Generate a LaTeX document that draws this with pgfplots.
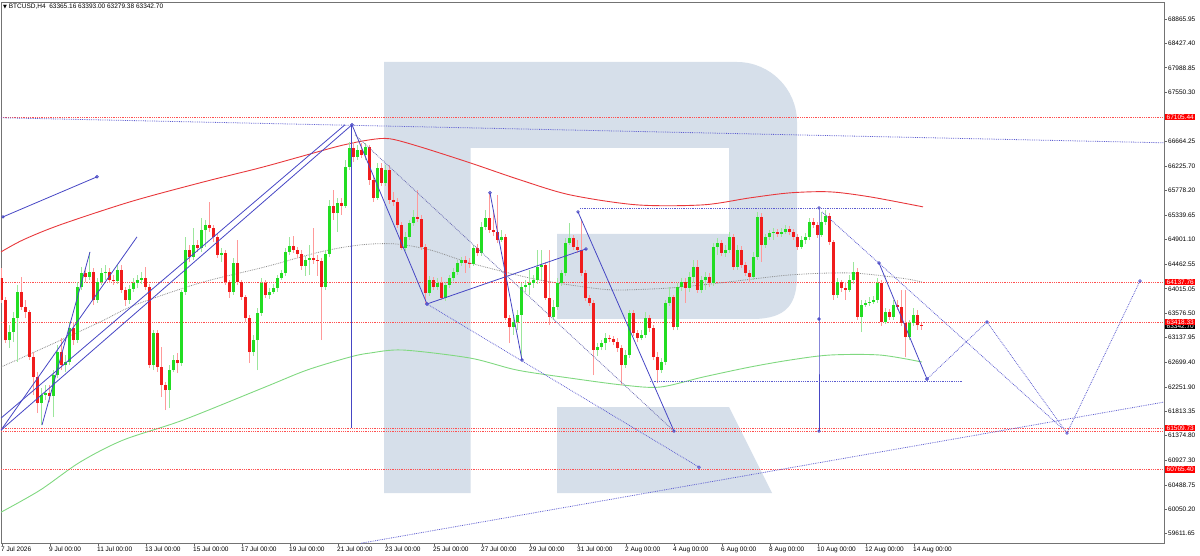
\documentclass[border=0pt]{standalone}
\usepackage{fontspec}
\setmainfont{Liberation Sans}
\newfontfamily\symfont{DejaVu Sans}
\usepackage{pgfplots}
\usepackage{pgfplotstable}
\pgfplotsset{compat=1.18}

\definecolor{upbody}{HTML}{22DD22}
\definecolor{upwick}{HTML}{9CE69C}
\definecolor{dnbody}{HTML}{F01C1C}
\definecolor{dnwick}{HTML}{FF9A9A}
\definecolor{trend}{HTML}{4646C4}
\definecolor{trenddot}{HTML}{5C5CD0}
\definecolor{level}{HTML}{FF5050}
\definecolor{rlogo}{HTML}{D6DFEA}
\definecolor{maslow}{HTML}{E8383C}
\definecolor{mafast}{HTML}{80D880}
\newcommand\tk{\fontsize{6.5}{7}\selectfont}
\pgfplotsset{candle/.style={only marks, mark=*, mark size=0.01pt,
  mark options={draw opacity=0, fill opacity=0}, forget plot}}

% BTCUSD H4, bar index (0 = 7 Jul 00:00), open high low close
\pgfplotstableread{
x o h l c
0 64210 64390 63760 63814
1 63814 63868 63040 63094
2 63094 63364 62950 63238
3 63238 63598 63058 63490
4 63490 64084 62698 63958
5 63958 64228 63634 63688
6 63688 63814 63490 63598
7 63598 63634 62734 62788
8 62788 62878 62104 62428
9 62428 62518 61780 61960
10 61960 62230 61564 62104
11 62104 62284 62014 62140
12 62140 62284 61978 62086
13 62086 62554 61708 62464
14 62464 63004 62410 62878
15 62878 63130 62554 62644
16 62644 62824 62518 62698
17 62698 63418 62644 63310
18 63310 63418 63004 63094
19 63094 64138 63040 64048
20 64048 64408 63994 64300
21 64300 64390 64138 64228
22 64228 64678 64174 64318
23 64318 64390 63724 63814
24 63814 64210 63760 64138
25 64138 64390 64084 64300
26 64300 64444 64174 64318
27 64318 64390 64120 64174
28 64174 64264 64084 64156
29 64156 64444 64102 64354
30 64354 64444 63940 63994
31 63994 64048 63706 63814
32 63814 64084 63742 64012
33 64012 64210 63958 64120
34 64120 64264 64030 64174
35 64174 64318 64102 64210
36 64210 64408 63994 64048
37 64048 64102 62590 62644
38 62644 63274 62554 63220
39 63220 63274 62518 62608
40 62608 62968 62068 62284
41 62284 62338 61834 62194
42 62194 62644 61870 62554
43 62554 62824 62518 62734
44 62734 62860 62500 62680
45 62680 63994 62626 63958
46 63958 64948 63904 64714
47 64714 64804 64498 64588
48 64588 65110 64534 64804
49 64804 64894 64678 64750
50 64750 65290 64678 65074
51 65074 65254 64768 65164
52 65164 65578 65038 65110
53 65110 65164 64858 64948
54 64948 65020 64570 64624
55 64624 64750 64498 64660
56 64660 64714 64084 64138
57 64138 64174 63850 63958
58 63958 64570 63904 64480
59 64480 64894 64084 64138
60 64138 64174 63814 63868
61 63868 63904 63418 63490
62 63490 63544 62680 62878
63 62878 63184 62806 63094
64 63094 63670 62554 63580
65 63580 64210 63526 64120
66 64120 64174 63850 63904
67 63904 64030 63832 63958
68 63958 64102 63922 64030
69 64030 64264 63958 64210
70 64210 64354 64174 64300
71 64300 64750 64246 64678
72 64678 64948 64624 64786
73 64786 64966 64660 64714
74 64714 64768 64570 64642
75 64642 64714 64354 64426
76 64426 64606 64246 64534
77 64534 64804 64264 64570
78 64570 65110 64462 64534
79 64534 64624 64246 64516
80 64516 64570 63094 64048
81 64048 64714 63994 64642
82 64642 65614 64588 65506
83 65506 65794 65254 65380
84 65380 65650 65038 65560
85 65560 65650 65344 65506
86 65506 66334 65470 66208
87 66208 66658 66154 66550
88 66550 66658 66298 66388
89 66388 66604 66334 66514
90 66514 66640 66370 66424
91 66424 66640 66334 66568
92 66568 66604 65884 65974
93 65974 66028 65578 65650
94 65650 66280 65614 66190
95 66190 66280 65866 65920
96 65920 66244 65866 66154
97 66154 66244 65542 65614
98 65614 65758 65506 65578
99 65578 65650 65110 65164
100 65164 65218 64714 64750
101 64750 65038 64696 64948
102 64948 65254 64894 65200
103 65200 65434 65146 65308
104 65308 65794 65218 65272
105 65272 65344 64714 64768
106 64768 64822 63742 63940
107 63940 64246 63886 64174
108 64174 64228 63994 64048
109 64048 64210 63994 64120
110 64120 64228 63814 63850
111 63850 64138 63796 64084
112 64084 64264 64030 64210
113 64210 64390 64156 64318
114 64318 64534 64264 64480
115 64480 64588 64426 64534
116 64534 64606 64300 64480
117 64480 64570 64390 64462
118 64462 64804 64426 64750
119 64750 64822 64606 64660
120 64660 65218 64606 65128
121 65128 65434 65074 65290
122 65290 65740 65020 65074
123 65074 65434 64966 65038
124 65038 65704 64840 64894
125 64894 65074 64858 64948
126 64948 65002 63454 63490
127 63490 63544 63040 63328
128 63328 63508 63184 63418
129 63418 63634 63274 63544
130 63544 64120 62734 64048
131 64048 64174 63958 64084
132 64084 64354 63904 64120
133 64120 64264 64030 64174
134 64174 64714 64102 64408
135 64408 64714 64174 64444
136 64444 64498 63814 63850
137 63850 64714 63364 63508
138 63508 63814 63454 63688
139 63688 64210 63634 64120
140 64120 64354 64066 64300
141 64300 64930 64246 64840
142 64840 65200 64804 64930
143 64930 64984 64714 64768
144 64768 64894 64660 64714
145 64714 65254 64246 64300
146 64300 64354 63796 63850
147 63850 63904 63706 63760
148 63760 63814 62464 62914
149 62914 63040 62806 62968
150 62968 63094 62914 63040
151 63040 63220 62914 63130
152 63130 63184 63058 63112
153 63112 63166 63004 63058
154 63058 63130 62878 62950
155 62950 63004 62284 62644
156 62644 62914 62590 62824
157 62824 63634 62770 63580
158 63580 63634 63166 63220
159 63220 63274 63058 63130
160 63130 63274 63094 63184
161 63184 63598 63130 63490
162 63490 63544 63238 63310
163 63310 63364 62734 62788
164 62788 62878 62320 62554
165 62554 62770 62500 62698
166 62698 63814 62644 63760
167 63760 64048 63706 63868
168 63868 63904 63274 63328
169 63328 64120 63274 64048
170 64048 64210 63976 64138
171 64138 64210 63760 64030
172 64030 64318 63958 64228
173 64228 64534 64120 64408
174 64408 64534 63940 63994
175 63994 64246 63940 64174
176 64174 64318 63994 64228
177 64228 64300 64048 64120
178 64120 64840 64066 64768
179 64768 64930 64624 64840
180 64840 64894 64606 64660
181 64660 64804 64588 64714
182 64714 65038 64660 64948
183 64948 65002 64354 64408
184 64408 64804 64354 64714
185 64714 64786 64390 64444
186 64444 64498 64246 64300
187 64300 64354 64138 64228
188 64228 64678 64174 64588
189 64588 65398 64534 65308
190 65308 65380 64498 64804
191 64804 65002 64750 64948
192 64948 65074 64894 65020
193 65020 65110 64894 65038
194 65038 65092 64948 65002
195 65002 65110 64948 65038
196 65038 65164 65002 65092
197 65092 65146 64984 65038
198 65038 65092 64894 64948
199 64948 65002 64714 64768
200 64768 64966 64732 64894
201 64894 65020 64822 64948
202 64948 65290 64894 65218
203 65218 65290 65110 65164
204 65164 65218 64930 64984
205 64984 65398 64948 65218
206 65218 65434 65164 65326
207 65326 65380 64804 64858
208 64858 64894 63814 63904
209 63904 64210 63850 64138
210 64138 64174 63958 64030
211 64030 64138 63814 63994
212 63994 64264 63958 64174
213 64174 64498 64102 64318
214 64318 64390 63454 63508
215 63508 63814 63238 63724
216 63724 63814 63688 63760
217 63760 63868 63706 63778
218 63778 63886 63742 63814
219 63814 64210 63760 64120
220 64120 64174 63346 63418
221 63418 63670 63382 63598
222 63598 63652 63454 63508
223 63508 63814 63454 63724
224 63724 63814 63634 63688
225 63688 63994 63346 63400
226 63400 63994 62788 63148
227 63148 63454 63094 63400
228 63400 63670 63346 63544
229 63544 63634 63274 63364
230 63365.16 63393.00 63279.38 63342.70
}\candles

\begin{document}
\begin{tikzpicture}
\path[use as bounding box] (0,0) rectangle (1200pt,555pt);
% watermark logo
\fill[rlogo] (384pt,493pt) -- (737pt,493pt)
  .. controls (770pt,493pt) and (797pt,466pt) .. (797pt,433pt)
  -- (797pt,280pt) .. controls (797pt,252pt) and (788pt,236pt) .. (752pt,236pt)
  -- (557pt,236pt) -- (557pt,321pt) -- (729pt,321pt) -- (729pt,407pt)
  -- (470.7pt,407pt) -- (470.7pt,62pt) -- (384pt,62pt) -- cycle;
\fill[rlogo] (557pt,148pt) -- (729pt,148pt) -- (772pt,62pt) -- (557pt,62pt) -- cycle;

\begin{axis}[
  at={(1pt,12pt)}, anchor=south west, scale only axis,
  width=1163pt, height=541pt,
  xmin=-0.25, xmax=290.5, ymin=59444.5, ymax=69171.6,
  clip mode=individual,
  scaled y ticks=false, scaled x ticks=false,
  axis line style={draw=black!55, line width=0.8pt},
  tick style={draw=black!60, line width=0.6pt},
  tick align=outside, major tick length=3pt,
  xtick pos=bottom, ytick pos=right, yticklabel pos=right,
  font=\tk,
  xtick={0,12,...,228},
  xticklabels={7 Jul 2026,9 Jul 00:00,11 Jul 00:00,13 Jul 00:00,15 Jul 00:00,17 Jul 00:00,19 Jul 00:00,21 Jul 00:00,23 Jul 00:00,25 Jul 00:00,27 Jul 00:00,29 Jul 00:00,31 Jul 00:00,2 Aug 00:00,4 Aug 00:00,6 Aug 00:00,8 Aug 00:00,10 Aug 00:00,12 Aug 00:00,14 Aug 00:00},
  ytick={68865.95,68427.40,67988.85,67550.30,66664.25,66225.70,65778.20,65339.65,64901.10,64462.55,64015.05,63576.50,63137.95,62699.40,62251.90,61813.35,61374.80,60927.30,60488.75,60050.20,59611.65},
  yticklabels={68865.95,68427.40,67988.85,67550.30,66664.25,66225.70,65778.20,65339.65,64901.10,64462.55,64015.05,63576.50,63137.95,62699.40,62251.90,61813.35,61374.80,60927.30,60488.75,60050.20,59611.65},
  xticklabel style={anchor=north west, inner sep=0pt, xshift=-1pt, yshift=-1pt, font=\tk},
  yticklabel style={anchor=west, inner sep=0pt, xshift=1pt, font=\tk},
]

% moving averages
\addplot[maslow, line width=0.9pt, smooth] coordinates {
(-0.25,64678) (5.25,64894) (14.5,65164) (32,65578) (49.5,65920) (64.5,66190)
(74.5,66388) (84.5,66586) (92,66694) (97,66712) (104.5,66568) (117,66280)
(129.5,65974) (142,65704) (158.75,65524) (175.25,65524) (187,65650)
(197,65740) (207,65758) (217,65668) (230.25,65488)};
\addplot[mafast, line width=0.9pt, smooth] coordinates {
(-0.25,59998) (9.5,60394) (19.5,60898) (30.25,61294) (45.25,61654) (65.75,62248)
(76.25,62554) (87,62788) (92,62860) (100.25,62914) (117,62770) (128.75,62554)
(142,62410) (155.25,62284) (164.5,62248) (175.25,62428) (187,62608)
(197,62734) (207,62824) (219.5,62824) (230,62698)};
\addplot[black!45, densely dotted, line width=0.8pt, smooth] coordinates {
(-0.25,62608) (12,63004) (24.5,63418) (33.25,63724) (49.5,64120) (65.75,64408)
(79.5,64678) (89.5,64804) (98.25,64822) (107,64714) (117,64480) (130.75,64228)
(138.75,64120) (149.5,64012) (155.25,63994) (167,64030) (179.5,64120)
(197,64264) (212,64300) (224.5,64210) (230,64138)};

% horizontal levels
\addplot[level, densely dotted, line width=0.8pt] coordinates {(-0.25,67105.44) (290.5,67105.44)};
\addplot[level, densely dotted, line width=0.8pt] coordinates {(-0.25,64137.76) (290.5,64137.76)};
\addplot[level, densely dotted, line width=0.8pt] coordinates {(-0.25,63418.33) (290.5,63418.33)};
\addplot[level, densely dotted, line width=0.8pt] coordinates {(-0.25,61509.73) (290.5,61509.73)};
\addplot[level, densely dotted, line width=0.8pt] coordinates {(-0.25,61456) (290.5,61456)};
\addplot[level, densely dotted, line width=0.8pt] coordinates {(-0.25,60765.40) (290.5,60765.40)};

% candles: wicks then bodies
\addplot[candle,
  restrict expr to domain={\thisrow{c}-\thisrow{o}}{0:100000},
  error bars/.cd, y dir=plus, y explicit, error mark=none,
  error bar style={line width=1pt, upwick}]
  table[x=x, y=l, y error plus expr=\thisrow{h}-\thisrow{l}] {\candles};
\addplot[candle,
  restrict expr to domain={\thisrow{o}-\thisrow{c}}{0.001:100000},
  error bars/.cd, y dir=plus, y explicit, error mark=none,
  error bar style={line width=1pt, dnwick}]
  table[x=x, y=l, y error plus expr=\thisrow{h}-\thisrow{l}] {\candles};
\addplot[candle,
  restrict expr to domain={\thisrow{c}-\thisrow{o}}{0:100000},
  error bars/.cd, y dir=plus, y explicit, error mark=none,
  error bar style={line width=3pt, upbody}]
  table[x=x, y=o, y error plus expr=\thisrow{c}-\thisrow{o}] {\candles};
\addplot[candle,
  restrict expr to domain={\thisrow{o}-\thisrow{c}}{0.001:100000},
  error bars/.cd, y dir=plus, y explicit, error mark=none,
  error bar style={line width=3pt, dnbody}]
  table[x=x, y=c, y error plus expr=\thisrow{o}-\thisrow{c}] {\candles};

% solid trend lines
\addplot[trend, line width=0.8pt, mark=o, mark size=1.3pt] coordinates {(0.25,65308) (23.75,66028)};
\addplot[trend, line width=0.8pt] coordinates {(-0.25,61474) (33.75,64948)};
\addplot[trend, line width=0.8pt] coordinates {(-0.25,61690) (85.75,66964)};
\addplot[trend, line width=0.8pt] coordinates {(-0.25,61474) (87.5,66964)};
\addplot[trend, line width=0.8pt] coordinates {(10,61564) (22,64678)};
\addplot[trend, line width=0.8pt] coordinates {(87.25,66964) (87.25,61510)};
\addplot[trend, line width=0.8pt, mark=o, mark size=1.3pt] coordinates {(87.5,66964) (106.25,63742) (146,64732)};
\addplot[trend, line width=0.8pt, mark=o, mark size=1.3pt] coordinates {(122,65740) (130,62734)};
\addplot[trend, line width=0.8pt, mark=o, mark size=1.3pt] coordinates {(144,65398) (168,61456)};
\addplot[trend, line width=0.8pt, mark=o, mark size=1.3pt] coordinates {(204.25,65470) (204.25,63472) (204.25,61456)};
\addplot[trend, line width=0.8pt, mark=o, mark size=1.3pt] coordinates {(219.25,64480) (231.25,62392)};

% dotted trend lines and forecast
\addplot[trenddot, densely dotted, line width=0.8pt] coordinates {(-0.25,67090) (290.5,66640)};
\addplot[trenddot, densely dotted, line width=0.8pt] coordinates {(89.75,59440) (290.5,61978)};
\addplot[trenddot, densely dotted, line width=0.8pt] coordinates {(144.5,65452) (222,65452)};
\addplot[trenddot, densely dotted, line width=0.8pt] coordinates {(162,62356) (240.25,62356)};
\addplot[trenddot, densely dotted, line width=0.8pt, mark=o, mark size=1.3pt, mark options={solid}] coordinates {(106.25,63742) (174.25,60808)};
\addplot[trenddot, densely dotted, line width=0.8pt] coordinates {(205,65398) (265,61510)};
\addplot[trenddot!60!gray, densely dotted, line width=0.8pt] coordinates {(88.25,66784) (168,61456)};
\addplot[trenddot, densely dotted, line width=0.8pt, mark=o, mark size=1.3pt, mark options={solid}] coordinates {(231.25,62392) (246.25,63418) (266.25,61420) (284.5,64156)};

% price labels on the right scale
\node[anchor=west, fill=red, text=white, inner xsep=1.5pt, inner ysep=1pt, xshift=1pt, font=\tk] at (axis cs:290.5,67105.44) {67105.44};
\node[anchor=west, fill=red, text=white, inner xsep=1.5pt, inner ysep=1pt, xshift=1pt, font=\tk] at (axis cs:290.5,64137.76) {64137.76};
\node[anchor=west, fill=black, text=white, inner xsep=1.5pt, inner ysep=1pt, xshift=1pt, font=\tk] at (axis cs:290.5,63342.70) {63342.70};
\node[anchor=west, fill=red, text=white, inner xsep=1.5pt, inner ysep=1pt, xshift=1pt, font=\tk] at (axis cs:290.5,63418.33) {63418.33};
\node[anchor=west, fill=red, text=white, inner xsep=1.5pt, inner ysep=1pt, xshift=1pt, font=\tk] at (axis cs:290.5,61509.73) {61509.73};
\node[anchor=west, fill=red, text=white, inner xsep=1.5pt, inner ysep=1pt, xshift=1pt, font=\tk] at (axis cs:290.5,60765.40) {60765.40};
\end{axis}

\node[anchor=west, font=\tk, inner sep=0pt] at (3pt,548pt)
  {{\symfont\fontsize{5}{5}\selectfont ▼}\ BTCUSD,H4\ \ 63365.16 63393.00 63279.38 63342.70};
\end{tikzpicture}
\end{document}
